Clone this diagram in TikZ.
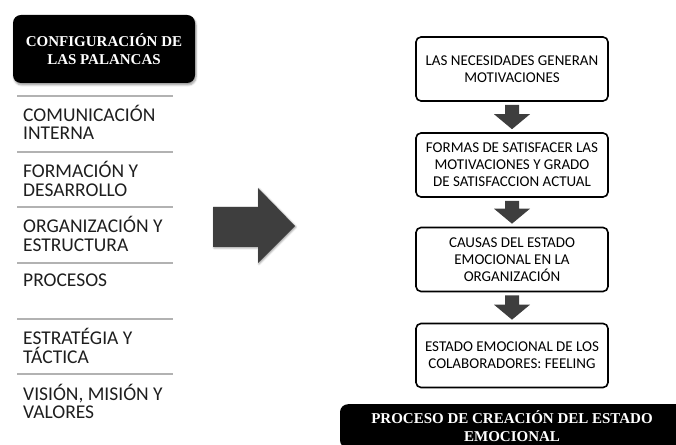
\documentclass[tikz,border=0pt]{standalone}
\usepackage{fontspec}
\setmainfont{Carlito}
\newfontfamily\serifnegrita{Liberation Serif}
\usepackage{tikz}
\usetikzlibrary{positioning,calc,shadows.blur}
\definecolor{grisflecha}{RGB}{62,62,62}
\definecolor{grislinea}{RGB}{178,178,178}
\definecolor{gristexto}{RGB}{30,30,30}

\tikzset{
  cajanegra/.style={rounded corners=8pt, fill=black, text=white, align=center, inner sep=4pt,
    font=\serifnegrita\bfseries\fontsize{15}{18}\selectfont},
  palanca/.style={anchor=west, inner sep=0pt, align=left, text=gristexto,
    font=\fontsize{19.5}{18.5}\selectfont},
  separador/.style={grislinea, line width=2pt},
  paso/.style={draw, line width=1.6pt, rounded corners=5pt, fill=white, align=center,
    minimum width=192pt, minimum height=64pt, inner sep=2pt,
    font=\fontsize{15}{17}\selectfont},
  flecha/.style={fill=grisflecha}
}
\newcommand{\flechabloque}[2]{%
  \fill[flecha] ($(#1.south)+(-7,-3)$) -- ($(#2.north)+(-7,18)$) -- ($(#2.north)+(-18,18)$)
    -- ($(#2.north)+(0,3)$) -- ($(#2.north)+(18,18)$) -- ($(#2.north)+(7,18)$)
    -- ($(#1.south)+(7,-3)$) -- cycle;}

\begin{document}
\begin{tikzpicture}[x=1pt,y=1pt]
  \useasboundingbox (0,0) rectangle (676,444);

  % palancas
  \node[cajanegra, minimum width=182pt, minimum height=68pt, blur shadow={shadow blur steps=5, shadow xshift=1pt, shadow yshift=-2pt}]
    (palancas) at (104,395) {CONFIGURACIÓN DE\\LAS PALANCAS};

  \node[palanca] (comunicacion) at (23,321.5) {COMUNICACIÓN\\INTERNA};
  \node[palanca] (formacion) at (23,265) {FORMACIÓN Y\\DESARROLLO};
  \node[palanca] (organizacion) at (23,210) {ORGANIZACIÓN Y\\ESTRUCTURA};
  \node[palanca] (procesos) at (23,164) {PROCESOS};
  \node[palanca] (estrategia) at (23,98) {ESTRATÉGIA Y\\TÁCTICA};
  \node[palanca] (vision) at (23,42.5) {VISIÓN, MISIÓN Y\\VALORES};

  \foreach \y in {348,292,237,181,125,70}
    \draw[separador] (17,\y) -- (173,\y);

  % flecha grande
  \fill[flecha, blur shadow={shadow blur steps=4, shadow xshift=1pt, shadow yshift=-1pt}]
    (213,197) -- (258,197) -- (258,181) -- (295,218) -- (258,256) -- (258,237) -- (213,237) -- cycle;

  % proceso
  \node[paso] (necesidades) at (512,375) {LAS NECESIDADES GENERAN\\MOTIVACIONES};
  \node[paso] (formas) at (512,279) {FORMAS DE SATISFACER LAS\\MOTIVACIONES Y GRADO\\DE SATISFACCION ACTUAL};
  \node[paso] (causas) at (512,184.5) {CAUSAS DEL ESTADO\\EMOCIONAL EN LA\\ORGANIZACIÓN};
  \node[paso] (estado) at (512,88.5) {ESTADO EMOCIONAL DE LOS\\COLABORADORES: FEELING};

  \flechabloque{necesidades}{formas}
  \flechabloque{formas}{causas}
  \flechabloque{causas}{estado}

  \node[cajanegra, anchor=north, minimum width=344pt, minimum height=44pt, font=\serifnegrita\bfseries\fontsize{15}{18}\selectfont]
    (creacion) at (512,40) {PROCESO DE CREACIÓN DEL ESTADO\\EMOCIONAL};
\end{tikzpicture}
\end{document}
